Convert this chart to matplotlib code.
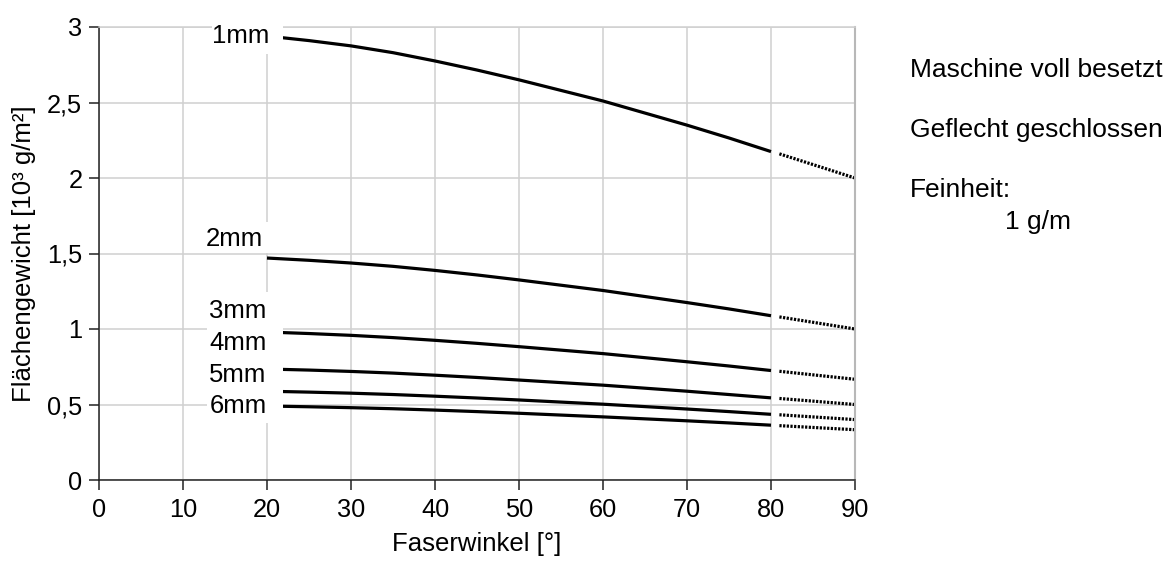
import matplotlib
matplotlib.use("Agg")
import matplotlib.pyplot as plt
from matplotlib.patches import Rectangle

plt.rcParams['font.family'] = ['Liberation Sans', 'DejaVu Sans']

# ---- data ----
angle_solid = [20, 25, 30, 35, 40, 45, 50, 55, 60, 65, 70, 75, 80]
angle_dotted = [81, 90]

w_1mm = [2.94, 2.91, 2.875, 2.83, 2.775, 2.715, 2.65, 2.58, 2.51, 2.43, 2.35, 2.265, 2.175]
w_2mm = [1.47, 1.455, 1.437, 1.415, 1.388, 1.358, 1.325, 1.29, 1.255, 1.215, 1.175, 1.133, 1.088]
w_3mm = [0.98, 0.97, 0.958, 0.943, 0.925, 0.905, 0.883, 0.86, 0.837, 0.81, 0.783, 0.755, 0.725]
w_4mm = [0.735, 0.728, 0.719, 0.708, 0.694, 0.679, 0.662, 0.645, 0.628, 0.608, 0.588, 0.566, 0.544]
w_5mm = [0.588, 0.582, 0.575, 0.566, 0.555, 0.543, 0.53, 0.516, 0.502, 0.486, 0.47, 0.453, 0.435]
w_6mm = [0.49, 0.485, 0.479, 0.472, 0.463, 0.453, 0.442, 0.43, 0.418, 0.405, 0.392, 0.378, 0.363]

d_1mm = [2.16, 2.0]
d_2mm = [1.08, 1.0]
d_3mm = [0.72, 0.667]
d_4mm = [0.54, 0.5]
d_5mm = [0.432, 0.4]
d_6mm = [0.36, 0.333]

curve_labels = ["1mm", "2mm", "3mm", "4mm", "5mm", "6mm"]
label_x = [13.5, 12.75, 13.1, 13.1, 13.1, 13.2]
label_y = [2.94, 1.593, 1.119, 0.905, 0.693, 0.49]

x_ticks = [0, 10, 20, 30, 40, 50, 60, 70, 80, 90]
y_ticks = [0, 0.5, 1, 1.5, 2, 2.5, 3]
y_ticklabels = ["0", "0,5", "1", "1,5", "2", "2,5", "3"]

side_notes = ["Maschine voll besetzt", "Geflecht geschlossen", "Feinheit:", "1 g/m"]

# ---- figure ----
W, H = 1167, 567
fig = plt.figure(figsize=(W / 100, H / 100), dpi=100)
ax = fig.add_axes([99 / W, (H - 480) / H, (855 - 99) / W, (480 - 27) / H])

solid = [w_1mm, w_2mm, w_3mm, w_4mm, w_5mm, w_6mm]
dotted = [d_1mm, d_2mm, d_3mm, d_4mm, d_5mm, d_6mm]
for s, d in zip(solid, dotted):
    ax.plot(angle_solid, s, color='black', lw=2.3, solid_capstyle='butt',
            solid_joinstyle='round', zorder=2)
    ax.plot(angle_dotted, d, color='black', lw=2.3, linestyle=(0, (0.7, 0.45)),
            dash_capstyle='butt', zorder=2)

ax.set_xlim(0, 90)
ax.set_ylim(0, 3)
ax.set_xticks(x_ticks)
ax.set_yticks(y_ticks)
ax.set_yticklabels(y_ticklabels)
ax.grid(True, color='#d0d0d0', lw=1.1, zorder=0)
ax.set_axisbelow(True)

ax.spines['top'].set_color('#d0d0d0')
ax.spines['top'].set_linewidth(1.1)
ax.spines['right'].set_color('#b8b8b8')
ax.spines['right'].set_linewidth(1.5)
ax.spines['left'].set_color('#222222')
ax.spines['bottom'].set_color('#222222')
ax.spines['left'].set_linewidth(1.1)
ax.spines['bottom'].set_linewidth(1.1)

ax.tick_params(axis='both', direction='out', length=7.5, width=1.1, color='#222222',
               labelsize=18.3)
ax.tick_params(axis='x', pad=5.5)
ax.tick_params(axis='y', pad=4.5)
ax.set_xlabel("Faserwinkel [°]", fontsize=18.5, labelpad=7)
ax.set_ylabel("Flächengewicht [10³ g/m²]", fontsize=18.5, labelpad=8)

# white label boxes (occluding curve starts as in the reference)
boxes = [(13.4, 2.82, 8.5, 0.24), (12.85, 1.503, 9.05, 0.206), (12.85, 0.377, 9.05, 0.868)]
for bx, by, bw, bh in boxes:
    ax.add_patch(Rectangle((bx, by), bw, bh, facecolor='white', edgecolor='none',
                           zorder=3, clip_on=False))
for lab, lx, ly in zip(curve_labels, label_x, label_y):
    ax.text(lx, ly, lab, ha='left', va='center', fontsize=18.5, zorder=4)

# side notes
fig.text(910 / W, 1 - 70 / H, side_notes[0], ha='left', va='center', fontsize=19)
fig.text(910 / W, 1 - 130 / H, side_notes[1], ha='left', va='center', fontsize=19)
fig.text(910 / W, 1 - 190 / H, side_notes[2], ha='left', va='center', fontsize=19)
fig.text(1005 / W, 1 - 222 / H, side_notes[3], ha='left', va='center', fontsize=19)

fig.savefig("out.png", dpi=100)
